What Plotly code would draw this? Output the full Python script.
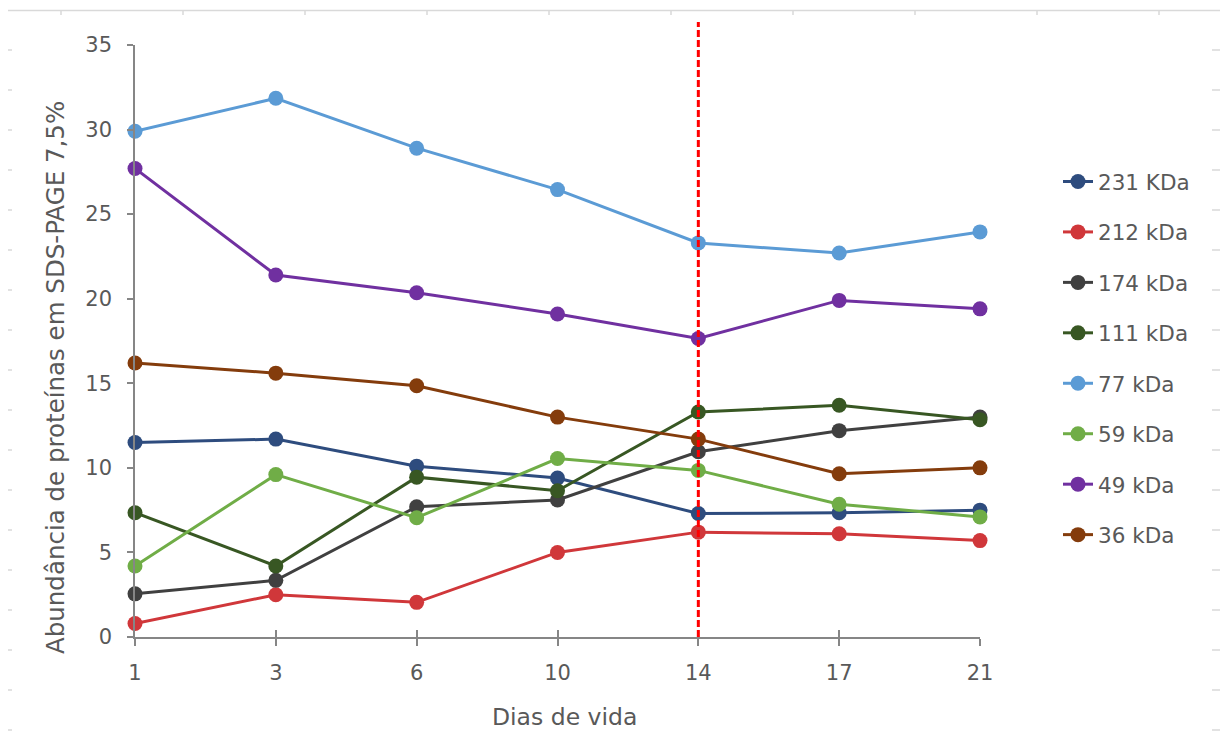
import plotly.graph_objects as go

# Days of life (x categories)
dias = ["1", "3", "6", "10", "14", "17", "21"]

# Relative protein abundance per band (SDS-PAGE 7,5%)
kda_231 = [11.5, 11.7, 10.1, 9.4, 7.3, 7.35, 7.5]
kda_212 = [0.8, 2.5, 2.05, 5.0, 6.2, 6.1, 5.7]
kda_174 = [2.55, 3.35, 7.7, 8.1, 10.95, 12.2, 13.0]
kda_111 = [7.35, 4.2, 9.45, 8.65, 13.3, 13.7, 12.85]
kda_77 = [29.9, 31.85, 28.9, 26.45, 23.3, 22.7, 23.95]
kda_59 = [4.2, 9.6, 7.05, 10.55, 9.85, 7.85, 7.1]
kda_49 = [27.7, 21.4, 20.35, 19.1, 17.65, 19.9, 19.4]
kda_36 = [16.2, 15.6, 14.85, 13.0, 11.7, 9.65, 10.0]

series_names = ["231 KDa", "212 kDa", "174 kDa", "111 kDa", "77 kDa", "59 kDa", "49 kDa", "36 kDa"]
series_values = [kda_231, kda_212, kda_174, kda_111, kda_77, kda_59, kda_49, kda_36]
series_colors = ["#2E4C7E", "#D0373A", "#404040", "#385723",
                 "#5B9BD5", "#70AD47", "#7030A0", "#843C0C"]

# Day marking the change of phase
dia_marcado = "14"

W, H = 1220, 734
ML, MR, MT, MB = 135, 240, 45, 97
PW, PH = W - ML - MR, H - MT - MB

FONT = "DejaVu Sans"
TXT = "#595959"
AXIS = "#868686"


def px_x(x):
    return (x - ML) / PW


def px_y(y):
    return (H - MB - y) / PH


fig = go.Figure()

for name, vals, col in zip(series_names, series_values, series_colors):
    fig.add_trace(go.Scatter(
        x=dias, y=vals, name=name, legendgroup=name,
        mode="lines+markers",
        line=dict(color=col, width=3),
        marker=dict(color=col, size=15),
        cliponaxis=False,
    ))

# Invisible overlay axis to draw tick marks on the inner side of the x axis
fig.add_trace(go.Scatter(x=dias, y=[None] * len(dias), xaxis="x2", yaxis="y",
                         showlegend=False, hoverinfo="skip"))

shapes = []
# vertical dashed marker
shapes.append(dict(type="line", xref="x", yref="paper",
                   x0=dias.index(dia_marcado), x1=dias.index(dia_marcado),
                   y0=0, y1=px_y(22),
                   line=dict(color="#FF0000", width=3, dash="7px,3px")))

# page frame: top rule with small ticks, side dashes
frame = dict(color="#D9D9D9", width=1.5)
shapes.append(dict(type="line", xref="paper", yref="paper",
                   x0=px_x(8), x1=px_x(1220), y0=px_y(10.5), y1=px_y(10.5), line=frame))
for k in range(10):
    xx = 61 + 122 * k
    shapes.append(dict(type="line", xref="paper", yref="paper",
                       x0=px_x(xx), x1=px_x(xx), y0=px_y(10.5), y1=px_y(15), line=frame))
for k in range(1, 19):
    yy = 10 + 40 * k
    shapes.append(dict(type="line", xref="paper", yref="paper",
                       x0=px_x(8), x1=px_x(12), y0=px_y(yy), y1=px_y(yy), line=frame))
    shapes.append(dict(type="line", xref="paper", yref="paper",
                       x0=px_x(1212), x1=px_x(1220), y0=px_y(yy), y1=px_y(yy), line=frame))

annotations = [
    dict(text="Abundância de proteínas em SDS-PAGE 7,5%", textangle=-90,
         xref="paper", yref="paper", x=px_x(55), y=px_y(378),
         showarrow=False, font=dict(family=FONT, size=24.5, color=TXT),
         xanchor="center", yanchor="middle"),
    dict(text="Dias de vida", xref="paper", yref="paper",
         x=px_x(564), y=px_y(717), showarrow=False,
         font=dict(family=FONT, size=23.5, color=TXT),
         xanchor="center", yanchor="middle"),
]

fig.update_layout(
    width=W, height=H,
    margin=dict(l=ML, r=MR, t=MT, b=MB),
    paper_bgcolor="white", plot_bgcolor="white",
    font=dict(family=FONT, color=TXT, size=21),
    showlegend=True,
    legend=dict(x=px_x(1058), y=px_y(161), xanchor="left", yanchor="top",
                font=dict(family=FONT, size=21.5, color=TXT),
                tracegroupgap=19.5, bgcolor="rgba(0,0,0,0)", itemwidth=30),
    xaxis=dict(type="category", range=[0, len(dias) - 1],
               showline=True, linecolor=AXIS, linewidth=1.5,
               ticks="outside", ticklen=7, tickcolor=AXIS, tickwidth=1.5,
               showgrid=False, zeroline=False,
               tickfont=dict(family=FONT, size=21, color=TXT),
               ticklabelstandoff=9),
    xaxis2=dict(type="category", range=[0, len(dias) - 1], overlaying="x",
                matches="x", anchor="y", side="bottom",
                ticks="inside", ticklen=7, tickcolor=AXIS, tickwidth=1.5,
                showticklabels=False, showgrid=False, zeroline=False, showline=False),
    yaxis=dict(range=[0, 35], dtick=5, tick0=0,
               showline=True, linecolor=AXIS, linewidth=1.5,
               ticks="outside", ticklen=6, tickcolor=AXIS, tickwidth=1.5,
               showgrid=False, zeroline=False,
               tickfont=dict(family=FONT, size=21, color=TXT),
               ticklabelstandoff=11),
    shapes=shapes,
    annotations=annotations,
)

fig.write_html("out.html", config={"displayModeBar": False})
